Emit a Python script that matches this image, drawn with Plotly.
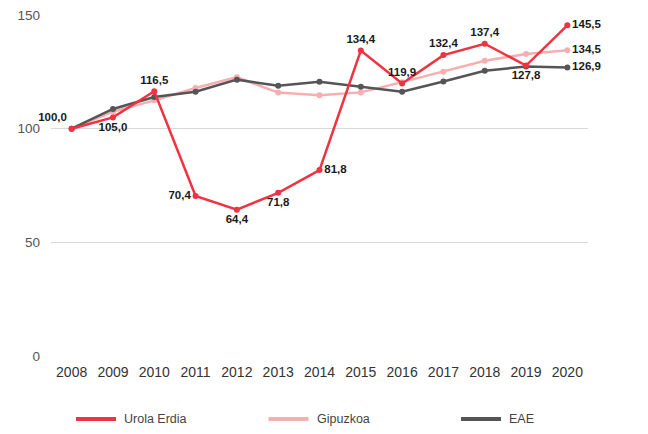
import plotly.graph_objects as go

years = ["2008", "2009", "2010", "2011", "2012", "2013", "2014",
         "2015", "2016", "2017", "2018", "2019", "2020"]

urola_erdia = [100.0, 105.0, 116.5, 70.4, 64.4, 71.8, 81.8,
               134.4, 119.9, 132.4, 137.4, 127.8, 145.5]
gipuzkoa = [100.0, 107.5, 112.5, 117.9, 122.7, 115.9, 114.7,
            116.0, 120.5, 125.1, 129.9, 132.9, 134.5]
eae = [100.0, 108.7, 114.0, 116.3, 121.6, 118.9, 120.7,
       118.5, 116.3, 120.8, 125.5, 127.4, 126.9]

series_names = ["Urola Erdia", "Gipuzkoa", "EAE"]

RED = "#ef3340"
PINK = "#f7aeb1"
DARK = "#555555"
FONT = "Liberation Sans, Arial, sans-serif"

# the page body adds an 8px margin, so the figure is 8px smaller
OFF = 8
W, H = 648 - OFF, 434 - OFF
L, R, T, B = 51 - OFF, 60, 15 - OFF, 78


def fmt(v):
    return f"{v:.1f}".replace(".", ",")


# label placement for the red series, as in the source
red_pos = ["top left", "bottom center", "top center", "middle left",
           "bottom center", "bottom center", "middle right", "top center",
           "top center", "top center", "top center", "bottom center",
           "middle right"]

label_font = dict(family=FONT, size=11.5, color="#1a1a1a", weight="bold")

fig = go.Figure()

# only the last value is labelled for the two reference series
for vals, col in [(gipuzkoa, PINK), (eae, DARK)]:
    fig.add_trace(go.Scatter(
        x=years, y=vals, mode="lines+markers+text",
        line=dict(color=col, width=2.5), marker=dict(size=6, color=col),
        text=[""] * (len(years) - 1) + [fmt(vals[-1])],
        textposition="middle right", textfont=label_font,
        showlegend=False, cliponaxis=False))

fig.add_trace(go.Scatter(
    x=years, y=urola_erdia, mode="lines+markers+text",
    line=dict(color=RED, width=2.5), marker=dict(size=6, color=RED),
    text=[fmt(v) for v in urola_erdia], textposition=red_pos,
    textfont=label_font, showlegend=False, cliponaxis=False))

# legend drawn by hand so the swatches sit where the source has them
pw = W - L - R
ph = H - T - B


def px_x(p):
    return (p - OFF - L) / pw


def px_y(p):
    return (H - B - (p - OFF)) / ph


for i, (name, col) in enumerate(zip(series_names, [RED, PINK, DARK])):
    x0 = 76 + i * 192.5
    fig.add_shape(type="line", xref="paper", yref="paper",
                  x0=px_x(x0), x1=px_x(x0 + 40), y0=px_y(419), y1=px_y(419),
                  line=dict(color=col, width=4))
    fig.add_annotation(text=name, xref="paper", yref="paper",
                       x=px_x(x0 + 46), y=px_y(419), xanchor="left",
                       yanchor="middle", showarrow=False,
                       font=dict(size=12.5, color="#444444"))

fig.update_layout(
    width=W, height=H,
    margin=dict(l=L, r=R, t=T, b=B),
    paper_bgcolor="white", plot_bgcolor="white",
    font=dict(family=FONT, size=13, color="#444444"),
    showlegend=False,
    xaxis=dict(type="category", range=[-0.5, len(years) - 0.5],
               showgrid=False, showline=False,
               ticks="", automargin=False, ticklabelstandoff=6,
               tickfont=dict(size=14, color="#333333")),
    yaxis=dict(range=[0, 150.05], tickvals=[0, 50, 100, 150],
               gridcolor="#d9d9d9", gridwidth=1, zeroline=False,
               showline=False, ticks="", ticklabelstandoff=10,
               automargin=False, ticklabeloverflow="allow",
               tickfont=dict(size=13.5, color="#555555")),
)

fig.write_html("out.html")
